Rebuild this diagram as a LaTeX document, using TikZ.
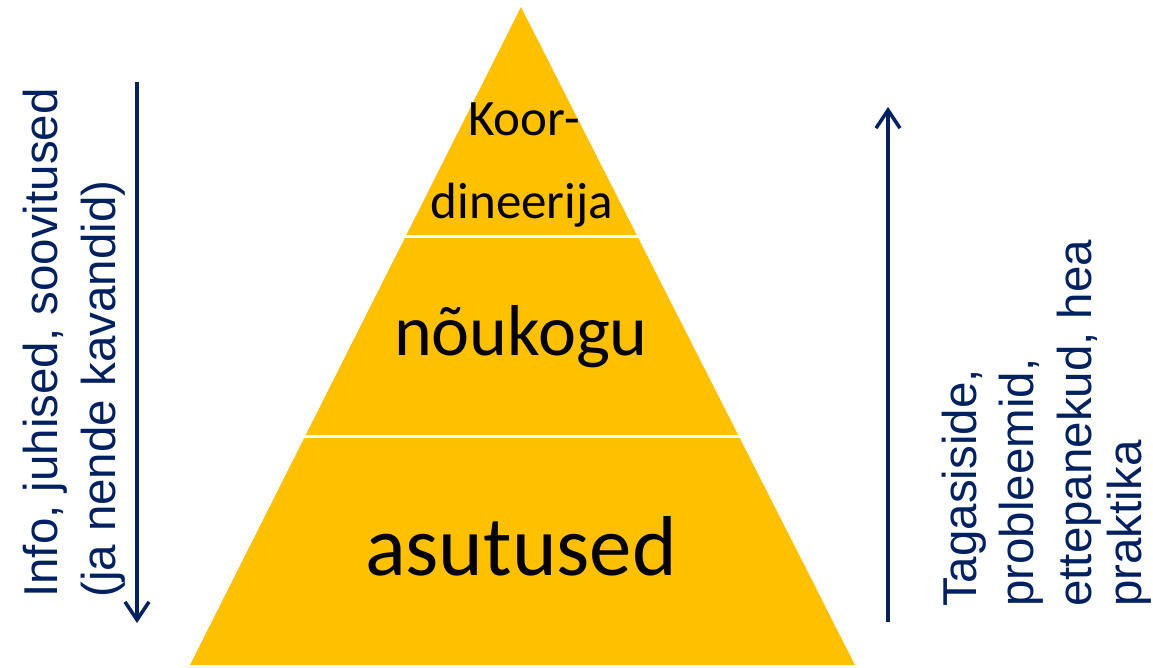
\documentclass[tikz,border=0pt]{standalone}
\usepackage{fontspec}
\usetikzlibrary{arrows.meta}
\newfontfamily\labelfont{Carlito}
\newfontfamily\sidefont{Liberation Sans}
\definecolor{pyrfill}{HTML}{FFC000}
\definecolor{navy}{HTML}{002060}
\tikzset{
  level/.style={inner sep=0pt, anchor=base, text=black},
  sidetext/.style={inner sep=0pt, rotate=90, anchor=base west, text=navy,
    font=\sidefont\fontsize{47.5}{57}\selectfont},
  flow/.style={draw=navy, line width=4pt,
    -{Straight Barb[length=18pt,width=24pt,line width=3.5pt]}},
  divider/.style={draw=white, line width=3pt}
}
\begin{document}
\begin{tikzpicture}[x=1pt,y=-1pt]
  \useasboundingbox (0,0) rectangle (1153,667);

  % pyramid
  \coordinate (apex) at (521,7);
  \coordinate (bl) at (190,665);
  \coordinate (br) at (855,665);
  \fill[pyrfill] (apex) -- (br) -- (bl) -- cycle;

  % level separators
  \coordinate (s1l) at (400,236);
  \coordinate (s1r) at (642,236);
  \coordinate (s2l) at (299,436);
  \coordinate (s2r) at (743,436);
  \draw[divider] (s1l) -- (s1r);
  \draw[divider] (s2l) -- (s2r);

  % level labels
  \node[level, font=\labelfont\fontsize{51}{60}\selectfont] (koor) at (524,135) {Koor-};
  \node[level, font=\labelfont\fontsize{51}{60}\selectfont] (dine) at (522,218) {dineerija};
  \node[level, font=\labelfont\fontsize{72}{80}\selectfont] (nouk) at (521,355) {nõukogu};
  \node[level, font=\labelfont\fontsize{85}{90}\selectfont] (asut) at (521,575) {asutused};

  % downward flow
  \node[sidetext] (info1) at (57,598) {Info, juhised, soovitused};
  \node[sidetext] (info2) at (115,598) {(ja nende kavandid)};
  \coordinate (dtop) at (137,82);
  \coordinate (dbot) at (137,623);
  \draw[flow] (dtop) -- (dbot);

  % upward flow
  \coordinate (ubot) at (888,622);
  \coordinate (utop) at (888,107);
  \draw[flow] (ubot) -- (utop);
  \node[sidetext] (fb1) at (976,607) {Tagasiside,};
  \node[sidetext] (fb2) at (1033,607) {probleemid,};
  \node[sidetext] (fb3) at (1091,607) {ettepanekud, hea};
  \node[sidetext] (fb4) at (1141,607) {praktika};
\end{tikzpicture}
\end{document}
